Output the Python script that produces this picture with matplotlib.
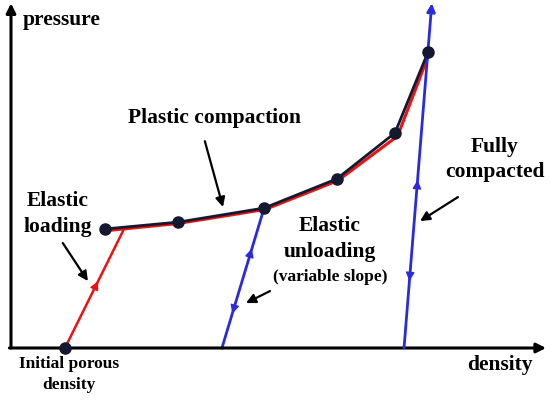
import numpy as np
import matplotlib
matplotlib.use('Agg')
from matplotlib import pyplot as plt

plt.rcParams['font.family'] = ['Liberation Serif', 'DejaVu Serif']
plt.rcParams['font.weight'] = 'bold'

# schematic values, density / pressure in arbitrary units (axes 0..10)
initial_density = 1.01
loading_density = [1.01, 2.10]
loading_pressure = [0.0, 3.42]

compaction_density = [1.76, 3.13, 4.74, 6.10, 7.19, 7.81]
compaction_pressure = [3.47, 3.67, 4.08, 4.93, 6.27, 8.63]

red_density = [1.78, 3.13, 4.76, 6.12, 7.24, 7.83]
red_pressure = [3.42, 3.63, 4.04, 4.88, 6.18, 8.58]

unload_density = [3.95, 4.74]
unload_pressure = [0.0, 4.08]

full_density = [7.36, 7.88]
full_pressure = [0.0, 10.0]

RED = '#ee1111'
BLUE = '#2a2ae0'
NAVY = '#141830'

fig = plt.figure(figsize=(5.5, 4), dpi=100)
ax = fig.add_axes([11 / 550, 52 / 400, 534 / 550, 343 / 400])
ax.set_xlim(0, 10)
ax.set_ylim(0, 10)
ax.axis('off')

# axes with arrow heads
ax.annotate('', xy=(0, 10.05), xytext=(0, 0), annotation_clip=False,
            arrowprops=dict(arrowstyle='-|>', lw=2.2, color='black', mutation_scale=14, shrinkA=0, shrinkB=0))
ax.annotate('', xy=(10.02, 0), xytext=(-0.03, 0), annotation_clip=False,
            arrowprops=dict(arrowstyle='-|>', lw=2.2, color='black', mutation_scale=14, shrinkA=0, shrinkB=0))

# elastic loading
ax.plot(loading_density, loading_pressure, color=RED, lw=1.8, solid_capstyle='round')
# plastic compaction (red under dark curve)
ax.plot(red_density, red_pressure, color=RED, lw=2.2, solid_capstyle='round')
ax.plot(compaction_density, compaction_pressure, color=NAVY, lw=2.0, solid_capstyle='round')
# unloading lines
ax.plot(unload_density, unload_pressure, color=BLUE, lw=2.0, clip_on=False)
ax.annotate('', xy=(full_density[1], full_pressure[1] + 0.05), xytext=(full_density[0], full_pressure[0]),
            annotation_clip=False,
            arrowprops=dict(arrowstyle='-|>', lw=2.0, color=BLUE, mutation_scale=12, shrinkA=0, shrinkB=0))

ax.plot(compaction_density, compaction_pressure, 'o', color=NAVY, ms=8, zorder=5)
ax.plot([initial_density], [0], 'o', color=NAVY, ms=8, zorder=5, clip_on=False)


def dir_arrow(xs, ys, p, sign, color):
    x_head = np.interp(p, ys, xs)
    x_tail = np.interp(p - sign * 0.35, ys, xs)
    ax.annotate('', xy=(x_head, p), xytext=(x_tail, p - sign * 0.35),
                arrowprops=dict(arrowstyle='-|>', lw=1, color=color, mutation_scale=13, shrinkA=0, shrinkB=0))


dir_arrow(loading_density, loading_pressure, 1.95, 1, RED)
dir_arrow(unload_density, unload_pressure, 2.9, 1, BLUE)
dir_arrow(unload_density, unload_pressure, 1.0, -1, BLUE)
dir_arrow(full_density, full_pressure, 4.9, 1, BLUE)
dir_arrow(full_density, full_pressure, 1.95, -1, BLUE)

# labels
big = dict(fontsize=15.5, fontweight='bold', ha='center', va='center')
small = dict(fontsize=12.5, fontweight='bold', ha='center', va='center')
ax.text(0.22, 9.56, 'pressure', fontsize=15.5, fontweight='bold', ha='left', va='center')
ax.text(9.16, -0.50, 'density', clip_on=False, **big)
ax.text(3.82, 6.71, 'Plastic compaction', **big)
ax.text(0.88, 3.91, 'Elastic\nloading', linespacing=1.45, **big)
ax.text(5.97, 3.19, 'Elastic\nunloading', linespacing=1.4, **big)
ax.text(5.97, 2.07, '(variable slope)', **small)
ax.text(9.06, 5.50, 'Fully\ncompacted', linespacing=1.35, **big)
ax.text(1.09, -0.77, 'Initial porous\ndensity', linespacing=1.45, clip_on=False, **small)

# pointer arrows
pointer = dict(arrowstyle='-|>', lw=1.6, color='black', mutation_scale=14, shrinkA=0, shrinkB=0)
ax.annotate('', xy=(3.97, 4.11), xytext=(3.63, 6.03), arrowprops=pointer)
ax.annotate('', xy=(1.44, 1.95), xytext=(0.97, 3.06), arrowprops=pointer)
ax.annotate('', xy=(4.40, 1.31), xytext=(4.85, 1.66), arrowprops=pointer)
ax.annotate('', xy=(7.66, 3.70), xytext=(8.37, 4.40), arrowprops=pointer)

fig.savefig('out.png', dpi=100)
